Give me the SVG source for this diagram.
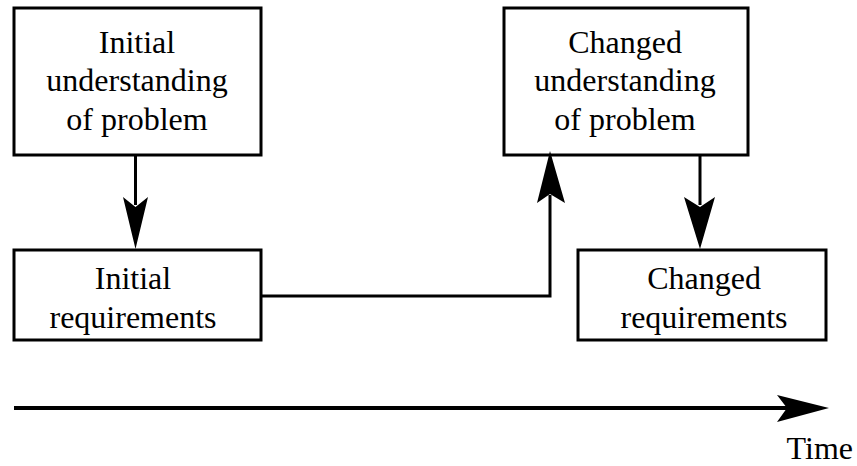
<svg xmlns="http://www.w3.org/2000/svg" width="857" height="466" viewBox="0 0 857 466">
  <style>
    .box { fill: #ffffff; stroke: #000000; stroke-width: 3; }
    .label { font-family: "Liberation Serif", "Times New Roman", serif; font-size: 32px; fill: #000000; text-anchor: middle; }
    .wire { fill: none; stroke: #000000; stroke-width: 3; }
    .head { fill: #000000; stroke: none; }
  </style>
  <rect width="857" height="466" fill="#ffffff"/>

  <!-- nodes -->
  <g id="initial-understanding">
    <rect class="box" x="14" y="8" width="247" height="147"/>
    <text class="label" x="137" y="53">Initial</text>
    <text class="label" x="137" y="91">understanding</text>
    <text class="label" x="137" y="130">of problem</text>
  </g>
  <g id="initial-requirements">
    <rect class="box" x="14" y="250" width="247" height="90"/>
    <text class="label" x="133" y="289">Initial</text>
    <text class="label" x="133" y="328">requirements</text>
  </g>
  <g id="changed-understanding">
    <rect class="box" x="504" y="8" width="244" height="147"/>
    <text class="label" x="625" y="53">Changed</text>
    <text class="label" x="625" y="91">understanding</text>
    <text class="label" x="625" y="130">of problem</text>
  </g>
  <g id="changed-requirements">
    <rect class="box" x="578" y="250" width="248" height="90"/>
    <text class="label" x="704" y="289">Changed</text>
    <text class="label" x="704" y="328">requirements</text>
  </g>

  <!-- connectors -->
  <g id="connectors">
    <line class="wire" x1="135.5" y1="155" x2="135.5" y2="205"/>
    <polygon class="head" points="135.5,249 123,197 135.5,207 148,197"/>

    <polyline class="wire" points="261,296 550,296 550,195"/>
    <polygon class="head" points="550,151 537,203 550,194 565,203"/>

    <line class="wire" x1="700" y1="155" x2="700" y2="205"/>
    <polygon class="head" points="700,249 684,197 700,207 715,197"/>
  </g>

  <!-- time axis -->
  <g id="time-axis">
    <line x1="14" y1="408" x2="790" y2="408" stroke="#000000" stroke-width="4"/>
    <polygon class="head" points="829,408 777,395 787,408 777,422"/>
    <text x="853" y="459" font-family="Liberation Serif, Times New Roman, serif" font-size="32" text-anchor="end">Time</text>
  </g>
</svg>
